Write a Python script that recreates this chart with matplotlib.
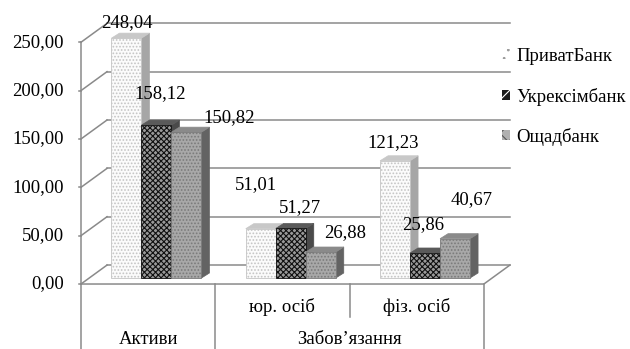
import numpy as np
import matplotlib
matplotlib.use("Agg")
import matplotlib.pyplot as plt
from matplotlib.patches import Polygon, Patch

plt.rcParams['font.family'] = ['Liberation Serif', 'DejaVu Serif']
plt.rcParams['hatch.linewidth'] = 0.8

# data
series = ['ПриватБанк', 'Укрексімбанк', 'Ощадбанк']
privat = [248.04, 51.01, 121.23]
ukrexim = [158.12, 51.27, 25.86]
oschad = [150.82, 26.88, 40.67]
sub_labels = ['', 'юр. осіб', 'фіз. осіб']
group_labels = ['Активи', 'Забов’язання']
yticks = [0, 50, 100, 150, 200, 250]

# label nudges (pixels), Excel puts them a bit randomly
label_offsets = [
    [(0, 16), (-5, 44), (-2, 18)],
    [(4, 32), (9, 21), (-2, 28)],
    [(43, 15), (24, 19), (17, 39)],
]

# styles: front face, hatch colour, top, side
styles = [
    dict(face='#fbfbfb', hatch='.....', hc='#c4c4c4', top='#c8c8c8', side='#a6a6a6'),
    dict(face='#9a9a9a', hatch='xxxxxx', hc='#111111', top='#5a5a5a', side='#4a4a4a'),
    dict(face='#a8a8a8', hatch='.....', hc='#7a7a7a', top='#8a8a8a', side='#636363'),
]

fig = plt.figure(figsize=(6.3, 3.49), dpi=100)
ax = fig.add_axes([0, 0, 1, 1])
ax.set_xlim(-1.165, 3.526)
ax.set_ylim(-73.4, 287.5)
ax.axis('off')

ncat = len(privat)
x = np.arange(ncat)
w = 0.2234
# wall depth (front -> back) and bar depth
fdx, fdy = -0.062, -6.2
bdx, bdy = 0.132, 13.4
sdx, sdy = 0.0596, 5.2
grid_c = '#8a8a8a'
left_f, right_f = -0.5 + fdx, ncat - 0.5 + fdx
left_b, right_b = -0.5 + bdx, ncat - 0.5 + bdx

# walls / grid
for t in yticks:
    ax.plot([left_f, left_b], [t + fdy, t + bdy], color=grid_c, lw=1.1, zorder=1)
    ax.plot([left_b, right_b], [t + bdy, t + bdy], color=grid_c, lw=1.1, zorder=1)
    ax.plot([left_f - 0.015, left_f], [t + fdy, t + fdy], color=grid_c, lw=1.1, zorder=1)
    ax.text(left_f - 0.13, t + fdy, f"{t:.2f}".replace('.', ','),
            ha='right', va='center', fontsize=13.5)
ax.plot([left_f, left_f], [fdy, yticks[-1] + fdy], color=grid_c, lw=1.1, zorder=1)
# floor
ax.plot([left_f, right_f, right_b], [fdy, fdy, bdy], color=grid_c, lw=1.1, zorder=1)

# bars: side + top first, then front, left to right
for c in range(ncat):
    for i, (vals, st) in enumerate(zip([privat, ukrexim, oschad], styles)):
        v = vals[c]
        l = x[c] - 1.5 * w + i * w
        r = l + w
        side = Polygon([(r, 0), (r + sdx, sdy), (r + sdx, v + sdy), (r, v)],
                       closed=True, facecolor=st['side'], edgecolor=st['side'],
                       lw=0.5, zorder=3)
        top = Polygon([(l, v), (l + sdx, v + sdy), (r + sdx, v + sdy), (r, v)],
                      closed=True, facecolor=st['top'], edgecolor=st['top'],
                      lw=0.5, zorder=3)
        ax.add_patch(side)
        ax.add_patch(top)
        ax.bar(l, v, width=w, align='edge', color=st['face'], edgecolor=st['hc'],
               hatch=st['hatch'], lw=0.6, zorder=3)

for i, (vals, offs) in enumerate(zip([privat, ukrexim, oschad], label_offsets)):
    for c in range(ncat):
        xc = x[c] - w + i * w
        ax.annotate(f"{vals[c]:.2f}".replace('.', ','), xy=(xc, vals[c]),
                    xytext=offs[c], textcoords='offset pixels',
                    ha='center', va='center', fontsize=13.5, zorder=6)

# category table
tc = '#8a8a8a'
for xb in [left_f, 0.5 + fdx, right_f]:
    ax.plot([xb, xb], [fdy, -74], color=tc, lw=1.1, zorder=1)
ax.plot([1.5 + fdx, 1.5 + fdx], [fdy, -40.3], color=tc, lw=1.1, zorder=1)
for c in range(1, ncat):
    ax.text(x[c] + fdx, -30, sub_labels[c], ha='center', va='center', fontsize=13.5)
ax.text(x[0] + fdx, -64, group_labels[0], ha='center', va='center', fontsize=13.5)
ax.text((x[1] + x[2]) / 2 + fdx, -64, group_labels[1], ha='center', va='center', fontsize=13.5)

# legend (tiny markers like the original)
handles = [
    Patch(facecolor='white', edgecolor='#9a9a9a', hatch='..', lw=0),
    Patch(facecolor='#1a1a1a', edgecolor='white', hatch='x', lw=0),
    Patch(facecolor='#b0b0b0', edgecolor='#555555', hatch='xx', lw=0),
]
ax.legend(handles, series, loc='center left', bbox_to_anchor=(502 / 630, 1 - 97 / 349),
          frameon=False, fontsize=13.5, handlelength=0.45, handleheight=0.45,
          handletextpad=0.3, labelspacing=1.2, borderpad=0, borderaxespad=0)

fig.savefig('out.png', dpi=100)
